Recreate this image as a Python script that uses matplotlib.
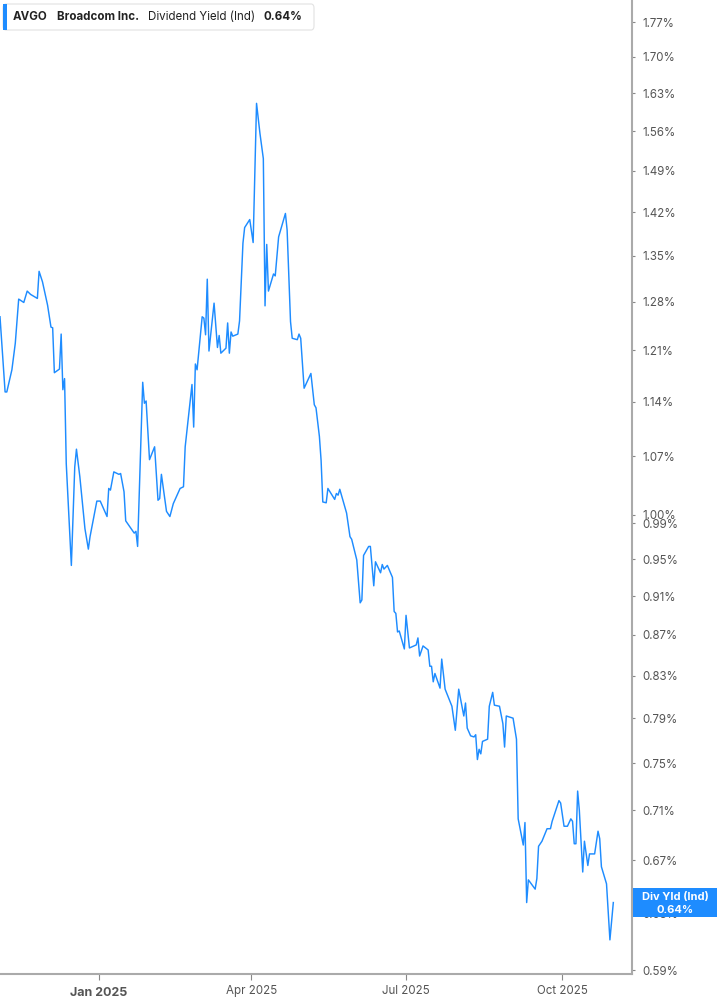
import matplotlib
matplotlib.use("Agg")
import matplotlib.pyplot as plt
import matplotlib.dates as mdates
from matplotlib.patches import FancyBboxPatch, Rectangle
from matplotlib.ticker import FixedLocator, FixedFormatter, NullLocator
import numpy as np
import pandas as pd

plt.rcParams['font.family'] = ['Inter', 'DejaVu Sans']

ticker = "AVGO"
company = "Broadcom Inc."
metric = "Dividend Yield (Ind)"
last_label = "0.64%"
badge_label = "Div Yld (Ind)"

dates = [
    "2024-11-04", "2024-11-07", "2024-11-08", "2024-11-11", "2024-11-13", "2024-11-15",
    "2024-11-18", "2024-11-20", "2024-11-22", "2024-11-26", "2024-11-27", "2024-11-29",
    "2024-12-02", "2024-12-04", "2024-12-05", "2024-12-06", "2024-12-09", "2024-12-10",
    "2024-12-11", "2024-12-12", "2024-12-13", "2024-12-16", "2024-12-18", "2024-12-19",
    "2024-12-21", "2024-12-24", "2024-12-26", "2024-12-27", "2024-12-31", "2025-01-02",
    "2025-01-06", "2025-01-07", "2025-01-08", "2025-01-10", "2025-01-13", "2025-01-14",
    "2025-01-16", "2025-01-17", "2025-01-22", "2025-01-23", "2025-01-24", "2025-01-27",
    "2025-01-28", "2025-01-29", "2025-01-31", "2025-02-03", "2025-02-05", "2025-02-06",
    "2025-02-07", "2025-02-10", "2025-02-12", "2025-02-14", "2025-02-18", "2025-02-20",
    "2025-02-21", "2025-02-25", "2025-02-26", "2025-02-27", "2025-02-28", "2025-03-03",
    "2025-03-04", "2025-03-05", "2025-03-06", "2025-03-07", "2025-03-10", "2025-03-12",
    "2025-03-13", "2025-03-14", "2025-03-17", "2025-03-18", "2025-03-19", "2025-03-20",
    "2025-03-21", "2025-03-24", "2025-03-25", "2025-03-27", "2025-03-28", "2025-03-31",
    "2025-04-02", "2025-04-04", "2025-04-06", "2025-04-08", "2025-04-09", "2025-04-10",
    "2025-04-11", "2025-04-14", "2025-04-15", "2025-04-17", "2025-04-21", "2025-04-22",
    "2025-04-24", "2025-04-25", "2025-04-28", "2025-04-29", "2025-04-30", "2025-05-02",
    "2025-05-06", "2025-05-08", "2025-05-09", "2025-05-11", "2025-05-12", "2025-05-13",
    "2025-05-15", "2025-05-16", "2025-05-20", "2025-05-21", "2025-05-22", "2025-05-23",
    "2025-05-27", "2025-05-29", "2025-05-30", "2025-06-02", "2025-06-04", "2025-06-05",
    "2025-06-06", "2025-06-09", "2025-06-10", "2025-06-12", "2025-06-13", "2025-06-16",
    "2025-06-17", "2025-06-18", "2025-06-20", "2025-06-23", "2025-06-24", "2025-06-25",
    "2025-06-26", "2025-06-27", "2025-06-30", "2025-07-01", "2025-07-03", "2025-07-07",
    "2025-07-08", "2025-07-09", "2025-07-11", "2025-07-14", "2025-07-15", "2025-07-16",
    "2025-07-17", "2025-07-18", "2025-07-21", "2025-07-22", "2025-07-24", "2025-07-28",
    "2025-07-30", "2025-08-01", "2025-08-04", "2025-08-05", "2025-08-06", "2025-08-08",
    "2025-08-10", "2025-08-11", "2025-08-12", "2025-08-13", "2025-08-14", "2025-08-15",
    "2025-08-18", "2025-08-19", "2025-08-21", "2025-08-22", "2025-08-25", "2025-08-27",
    "2025-08-28", "2025-08-29", "2025-09-02", "2025-09-04", "2025-09-05", "2025-09-08",
    "2025-09-09", "2025-09-10", "2025-09-11", "2025-09-15", "2025-09-16", "2025-09-17",
    "2025-09-19", "2025-09-22", "2025-09-24", "2025-09-25", "2025-09-29", "2025-09-30",
    "2025-10-02", "2025-10-04", "2025-10-06", "2025-10-07", "2025-10-08", "2025-10-09",
    "2025-10-10", "2025-10-11", "2025-10-13", "2025-10-14", "2025-10-16", "2025-10-17",
    "2025-10-20", "2025-10-22", "2025-10-23", "2025-10-24", "2025-10-27", "2025-10-29",
    "2025-10-31",
]

yield_pct = [
    1.258, 1.153, 1.153, 1.183, 1.220, 1.284,
    1.279, 1.296, 1.291, 1.285, 1.326, 1.310,
    1.275, 1.243, 1.242, 1.179, 1.184, 1.233,
    1.156, 1.171, 1.061, 0.943, 1.057, 1.079,
    1.045, 0.984, 0.961, 0.975, 1.016, 1.016,
    0.998, 1.031, 1.029, 1.051, 1.048, 1.049,
    1.027, 0.993, 0.979, 0.981, 0.964, 1.166,
    1.138, 1.141, 1.066, 1.082, 1.017, 1.019,
    1.048, 1.004, 0.998, 1.013, 1.031, 1.033,
    1.082, 1.163, 1.107, 1.191, 1.183, 1.258,
    1.256, 1.232, 1.314, 1.209, 1.278, 1.214,
    1.231, 1.206, 1.213, 1.249, 1.206, 1.236,
    1.230, 1.233, 1.252, 1.370, 1.395, 1.408,
    1.371, 1.611, 1.556, 1.511, 1.274, 1.368,
    1.296, 1.322, 1.319, 1.380, 1.418, 1.391,
    1.251, 1.227, 1.225, 1.233, 1.227, 1.158,
    1.178, 1.136, 1.132, 1.095, 1.065, 1.015,
    1.014, 1.031, 1.018, 1.025, 1.023, 1.030,
    1.002, 0.975, 0.972, 0.949, 0.903, 0.906,
    0.954, 0.964, 0.964, 0.921, 0.947, 0.935,
    0.944, 0.939, 0.943, 0.930, 0.894, 0.892,
    0.873, 0.874, 0.856, 0.890, 0.857, 0.860,
    0.867, 0.849, 0.859, 0.855, 0.839, 0.839,
    0.824, 0.832, 0.818, 0.846, 0.817, 0.801,
    0.779, 0.817, 0.792, 0.804, 0.781, 0.774,
    0.773, 0.775, 0.753, 0.762, 0.758, 0.769,
    0.771, 0.801, 0.814, 0.802, 0.801, 0.785,
    0.764, 0.792, 0.790, 0.771, 0.703, 0.682,
    0.700, 0.638, 0.655, 0.648, 0.656, 0.681,
    0.685, 0.695, 0.695, 0.701, 0.718, 0.716,
    0.697, 0.697, 0.703, 0.701, 0.683, 0.683,
    0.726, 0.710, 0.661, 0.685, 0.666, 0.675,
    0.675, 0.693, 0.687, 0.665, 0.652, 0.611,
    0.638,
]

y_ticks = [1.77, 1.70, 1.63, 1.56, 1.49, 1.42, 1.35, 1.28, 1.21, 1.14, 1.07, 1.00,
           0.99, 0.95, 0.91, 0.87, 0.83, 0.79, 0.75, 0.71, 0.67, 0.63, 0.59]
x_tick_dates = ["2025-01-01", "2025-04-01", "2025-07-01", "2025-10-01"]
x_tick_labels = ["Jan 2025", "Apr 2025", "Jul 2025", "Oct 2025"]

x_range = ["2024-11-04", "2025-11-11"]
y_range = [0.5873, 1.816]

W, H = 717, 1005
fig = plt.figure(figsize=(W / 100, H / 100), dpi=100)
ax = fig.add_axes([0, 31 / H, 632 / W, 1 - 31 / H])

d = pd.to_datetime(dates)
line_color = "#1e8cff"
ax.plot(d, yield_pct, color=line_color, lw=1.05, solid_joinstyle="round")

ax.set_yscale("log")
ax.set_xlim(pd.to_datetime(x_range[0]), pd.to_datetime(x_range[1]))
ax.set_ylim(*y_range)

ax.yaxis.set_major_locator(FixedLocator(y_ticks))
ax.yaxis.set_major_formatter(FixedFormatter([f"{v:.2f}%" for v in y_ticks]))
ax.yaxis.set_minor_locator(NullLocator())
ax.yaxis.tick_right()
ax.tick_params(axis="y", which="major", length=2.5, width=0.8, color="#888888",
               labelcolor="#555555", labelsize=8.3, pad=5)

ax.set_xticks(pd.to_datetime(x_tick_dates))
ax.set_xticklabels(x_tick_labels)
ax.tick_params(axis="x", which="major", length=4, width=0.8, color="#888888",
               labelcolor="#555555", labelsize=8.3, pad=4)
for lbl in ax.get_xticklabels():
    if lbl.get_text() == "Jan 2025":
        lbl.set_fontweight("bold")
        lbl.set_fontsize(9.0)
        lbl.set_y(-0.002)
ax.xaxis.set_minor_locator(NullLocator())

for side in ["top", "left"]:
    ax.spines[side].set_visible(False)
for side in ["right", "bottom"]:
    ax.spines[side].set_color("#aaaaaa")
    ax.spines[side].set_linewidth(1.5)

# header box
hb = FancyBboxPatch((3 / W, 1 - 30 / H), 311 / W, 26 / H,
                    boxstyle="round,pad=0,rounding_size=0.004",
                    transform=fig.transFigure, facecolor="white",
                    edgecolor="#e2e2e2", linewidth=0.8)
fig.patches.append(hb)
fig.patches.append(Rectangle((3 / W, 1 - 30 / H), 3.5 / W, 26 / H,
                             transform=fig.transFigure, facecolor=line_color,
                             edgecolor="none"))
ty = 1 - 17 / H
hfs = 8.3
fig.text(13 / W, ty, ticker, fontsize=hfs, fontweight="bold", color="#222222", va="center")
fig.text(57 / W, ty, company, fontsize=hfs, fontweight="bold", color="#222222", va="center")
fig.text(148 / W, ty, metric, fontsize=hfs, color="#222222", va="center")
fig.text(264 / W, ty, last_label, fontsize=hfs, fontweight="bold", color="#222222", va="center")

# end-value badge
fig.canvas.draw()
last_dt = mdates.date2num(d[-1])
_, ypix = ax.transData.transform((last_dt, yield_pct[-1]))
ycen = ypix / H
bh = 29 / H
fig.patches.append(Rectangle((633 / W, ycen - bh / 2), (W - 633) / W, bh,
                             transform=fig.transFigure, facecolor="#1e8cff",
                             edgecolor="none", zorder=5))
fig.text(675 / W, ycen + 6 / H, badge_label, color="white", fontsize=8.0,
         fontweight="bold", ha="center", va="center", zorder=6)
fig.text(675 / W, ycen - 7 / H, last_label, color="white", fontsize=8.0,
         fontweight="bold", ha="center", va="center", zorder=6)

fig.savefig("out.png", dpi=100)
